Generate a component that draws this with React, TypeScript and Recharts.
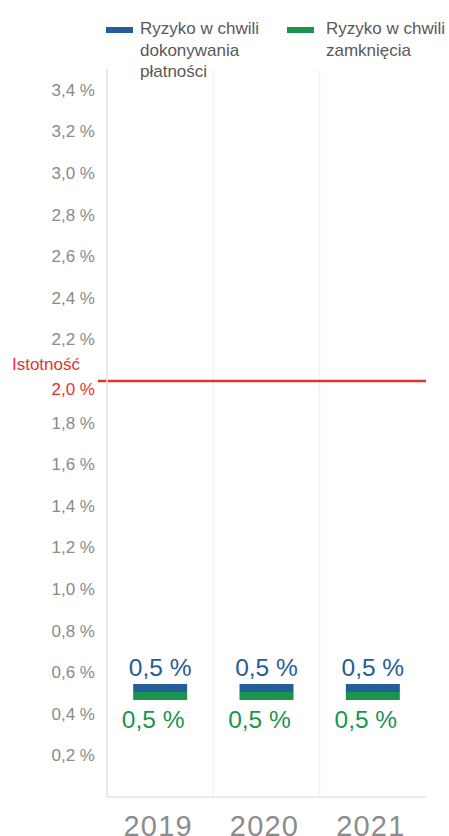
import React from 'react';
import {
  ComposedChart,
  Scatter,
  XAxis,
  YAxis,
  CartesianGrid,
  ReferenceLine,
  Legend,
} from 'recharts';

const years = ['2019', '2020', '2021'];
const paymentRisk = [0.5, 0.5, 0.5];
const closureRisk = [0.5, 0.5, 0.5];
const yTicks = [0.2, 0.4, 0.6, 0.8, 1.0, 1.2, 1.4, 1.6, 1.8, 2.0, 2.2, 2.4, 2.6, 2.8, 3.0, 3.2, 3.4];
const materiality = 2.0;
const materialityLabel = 'Istotność';
const seriesNames = ['Ryzyko w chwili dokonywania płatności', 'Ryzyko w chwili zamknięcia'];

const BLUE = '#245e96';
const GREEN = '#1b9450';
const RED = '#e8312f';
const FONT = '"Liberation Sans", Arial, sans-serif';

const data = years.map((y, i) => ({ year: y, payment: paymentRisk[i], closure: closureRisk[i] }));

const fmt = (v: number) => `${v.toFixed(1).replace('.', ',')} %`;

const PaymentShape = (props: any) => {
  const { cx, cy, payload } = props;
  return (
    <g>
      <rect x={cx - 27} y={cy - 9} width={54} height={8} fill={BLUE} />
      <text x={cx} y={cy - 17} textAnchor="middle" fontSize={24.5} fill={BLUE} fontFamily={FONT}>
        {fmt(payload.payment)}
      </text>
    </g>
  );
};

const ClosureShape = (props: any) => {
  const { cx, cy, payload } = props;
  return (
    <g>
      <rect x={cx - 27} y={cy - 1} width={54} height={8} fill={GREEN} />
      <text x={cx - 7} y={cy + 35} textAnchor="middle" fontSize={24.5} fill={GREEN} fontFamily={FONT}>
        {fmt(payload.closure)}
      </text>
    </g>
  );
};

const YTick = (props: any) => {
  const { x, y, payload } = props;
  const isMat = Math.abs(payload.value - materiality) < 1e-9;
  return (
    <text
      x={x}
      y={y}
      dy="0.355em"
      transform={isMat ? 'translate(0,8)' : undefined}
      textAnchor="end"
      fontSize={17}
      fill={isMat ? RED : '#8a8a8a'}
      fontFamily={FONT}
    >
      {fmt(payload.value)}
    </text>
  );
};

const XTick = (props: any) => {
  const { x, y, payload } = props;
  return (
    <text
      x={x - 2}
      y={y}
      dy={39}
      textAnchor="middle"
      fontSize={29}
      letterSpacing={1.2}
      fill="#8c8c8c"
      fontFamily={FONT}
    >
      {payload.value}
    </text>
  );
};

const LegendContent = (props: any) => {
  const items = props.payload || [];
  const lefts = [106, 287];
  return (
    <div style={{ position: 'relative', height: 69, fontFamily: FONT }}>
      {items.map((it: any, i: number) => (
        <div key={i} style={{ position: 'absolute', left: lefts[i], top: 18, display: 'flex' }}>
          <div style={{ width: 27, height: 6, background: it.color, marginTop: 9, flexShrink: 0 }} />
          <div
            style={{
              marginLeft: i === 0 ? 7 : 12,
              width: 128,
              fontSize: 17,
              lineHeight: '21.5px',
              color: '#595959',
            }}
          >
            {it.value}
          </div>
        </div>
      ))}
    </div>
  );
};

const RedLine = (props: any) => {
  const { x1, y1, x2, y2 } = props;
  return <line x1={x1 - 9} y1={y1} x2={x2} y2={y2} stroke={RED} strokeWidth={2.6} />;
};

const MatLabel = (props: any) => {
  const { viewBox } = props;
  return (
    <text
      x={viewBox.x - 27}
      y={viewBox.y - 17}
      dy="0.355em"
      textAnchor="end"
      fontSize={17}
      fill={RED}
      fontFamily={FONT}
    >
      {materialityLabel}
    </text>
  );
};

export default function App() {
  return (
    <div style={{ position: 'absolute', left: 0, top: 0, background: '#fff' }}>
      <ComposedChart width={449} height={836} data={data} margin={{ top: 0, right: 23, bottom: 0, left: 0 }}>
        <Legend verticalAlign="top" align="left" content={<LegendContent />} />
        <CartesianGrid
          horizontal={false}
          vertical
          stroke="#f0f0f0"
          strokeWidth={1.2}
          verticalCoordinatesGenerator={(p: any) =>
            years.slice(1).map((_, i) => p.offset.left + (p.offset.width * (i + 1)) / years.length)
          }
        />
        <XAxis
          dataKey="year"
          type="category"
          scale="band"
          height={39}
          tickSize={0}
          tickMargin={0}
          axisLine={{ stroke: '#e4e4e4', strokeWidth: 1.6 }}
          tickLine={false}
          tick={<XTick />}
          interval={0}
        />
        <YAxis
          type="number"
          domain={[0, 3.5]}
          ticks={yTicks}
          width={107}
          tickSize={0}
          tickMargin={12}
          axisLine={{ stroke: '#e4e4e4', strokeWidth: 1.6 }}
          tickLine={false}
          tick={<YTick />}
          interval={0}
          allowDataOverflow
        />
        <ReferenceLine y={materiality} shape={<RedLine />} label={<MatLabel />} ifOverflow="visible" />
        <Scatter
          name={seriesNames[0]}
          dataKey="payment"
          fill={BLUE}
          shape={<PaymentShape />}
          isAnimationActive={false}
        />
        <Scatter
          name={seriesNames[1]}
          dataKey="closure"
          fill={GREEN}
          shape={<ClosureShape />}
          isAnimationActive={false}
        />
      </ComposedChart>
    </div>
  );
}
